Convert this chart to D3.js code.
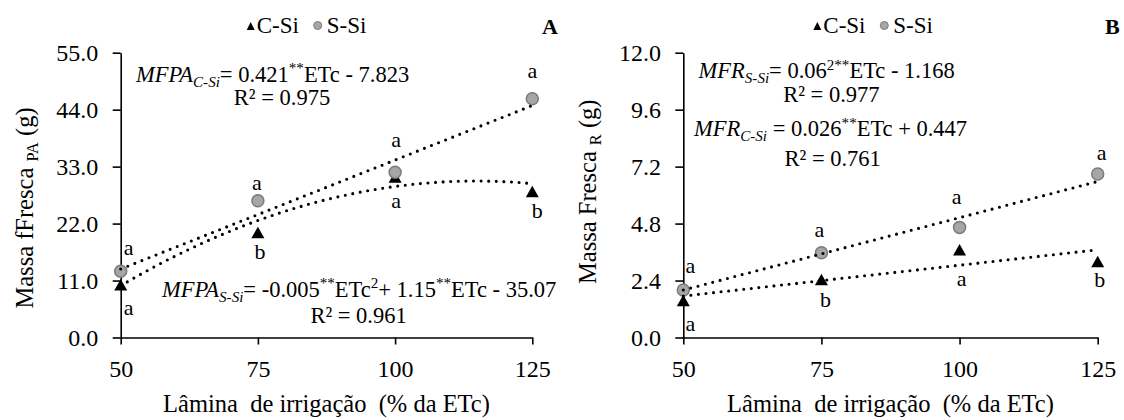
<!DOCTYPE html>
<html><head><meta charset="utf-8">
<script src="https://cdn.jsdelivr.net/npm/d3@7"></script>
<style>
html,body{margin:0;padding:0;background:#fff;}
svg{display:block;}
</style></head><body>
<svg id="chart" width="1124" height="420"></svg>
<script>
// ---------- data ----------
const etc = [50, 75, 100, 125];
const xTicks = [50, 75, 100, 125];
const aCSi = [10.2, 20.3, 31.0, 28.2];
const aSSi = [12.8, 26.4, 31.9, 46.1];
const bCSi = [1.56, 2.44, 3.7, 3.2];
const bSSi = [2.0, 3.57, 4.64, 6.89];
const aYTicks = [0, 11, 22, 33, 44, 55];
const bYTicks = [0, 2.4, 4.8, 7.2, 9.6, 12];
const aLettersC = ["a", "b", "a", "b"];
const aLettersS = ["a", "a", "a", "a"];
const bLettersC = ["a", "b", "a", "b"];
const bLettersS = ["a", "a", "a", "a"];
// trend-line coefficients [x^2, x, const]
const aTrendS = [0, 0.421, -7.823];
const aTrendC = [-0.004822, 1.1067, -33.28];
const bTrendS = [0, 0.061, -1.05];
const bTrendC = [0, 0.026, 0.447];
const seriesNames = ["C-Si", "S-Si"];

// ---------- layout ----------
const FF = "Liberation Serif";
const svg = d3.select("#chart").style("font-family", FF);
const FONT_TICK = 24, FONT_TITLE = 24.5, FONT_ANN = 22.5, FONT_LET = 22, FONT_LEG = 23;
const yTop = 52.7, yBot = 337.5;

function txt(g) {
  return g.append("text").style("font-family", FF).attr("fill", "#000");
}

function richText(g, x, y, parts, size, anchor) {
  const t = txt(g).attr("x", x).attr("y", y)
    .attr("font-size", size).attr("text-anchor", anchor || "start")
    .style("white-space", "pre");
  let shift = 0;
  parts.forEach(p => {
    const target = p.sub ? 5 : (p.sup ? -8.5 : 0);
    const ts = t.append("tspan").text(p.t).attr("dy", target - shift);
    shift = target;
    if (p.sub || p.sup) ts.attr("font-size", size * 0.67);
    if (p.i) ts.attr("font-style", "italic");
  });
  return t;
}

function panel(cfg) {
  const g = svg.append("g");
  const x = d3.scaleLinear().domain([50, 125]).range([cfg.x0, cfg.x1]);
  const y = d3.scaleLinear().domain([cfg.yTicks[0], cfg.yTicks[cfg.yTicks.length - 1]]).range([yBot, yTop]);

  const xa = g.append("g").attr("transform", `translate(0,${yBot})`)
    .call(d3.axisBottom(x).tickValues(xTicks).tickSize(7).tickSizeOuter(0).tickPadding(15.5).tickFormat(d3.format("d")));
  const ya = g.append("g").attr("transform", `translate(${cfg.x0},0)`)
    .call(d3.axisLeft(y).tickValues(cfg.yTicks).tickSize(8).tickSizeOuter(0).tickPadding(14.4).tickFormat(d => d.toFixed(1)));
  [xa, ya].forEach(a => {
    a.attr("font-family", FF);
    a.selectAll("path,line").attr("stroke", "#000").attr("stroke-width", 1.6);
    a.selectAll("text").attr("font-size", FONT_TICK).attr("font-family", FF).style("font-family", FF).attr("fill", "#000");
  });

  // markers: triangles then circles
  const tri = (cx, cy, w, h) => `M${cx},${cy - h / 2}L${cx + w / 2},${cy + h / 2}L${cx - w / 2},${cy + h / 2}Z`;
  g.selectAll(".tri").data(etc.map((e, i) => [e, cfg.c[i]])).enter().append("path")
    .attr("d", d => tri(x(d[0]), y(d[1]), 13, 11.5)).attr("fill", "#000");
  g.selectAll(".cir").data(etc.map((e, i) => [e, cfg.s[i]])).enter().append("circle")
    .attr("cx", d => x(d[0])).attr("cy", d => y(d[1])).attr("r", 6)
    .attr("fill", "#a6a6a6").attr("stroke", "#7b7b7b").attr("stroke-width", 1.5);

  // trend lines
  const line = d3.line().x(d => x(d[0])).y(d => y(d[1]));
  [cfg.trendS, cfg.trendC].forEach(c => {
    const pts = d3.range(50, 125.01, 1).map(e => [e, c[0] * e * e + c[1] * e + c[2]]);
    g.append("path").datum(pts).attr("d", line).attr("fill", "none")
      .attr("stroke", "#000").attr("stroke-width", 3.1)
      .attr("stroke-dasharray", "0,7.6").attr("stroke-linecap", "round");
  });

  // letters
  etc.forEach((e, i) => {
    const os = cfg.offS[i], oc = cfg.offC[i];
    txt(g).attr("x", x(e) + os[0]).attr("y", y(cfg.s[i]) + os[1])
      .attr("text-anchor", "middle").attr("font-size", FONT_LET).text(cfg.lettersS[i]);
    txt(g).attr("x", x(e) + oc[0]).attr("y", y(cfg.c[i]) + oc[1])
      .attr("text-anchor", "middle").attr("font-size", FONT_LET).text(cfg.lettersC[i]);
  });

  // equations
  cfg.eqs.forEach(eq => {
    richText(g, eq.x, eq.y, eq.parts, FONT_ANN, "start");
    txt(g).attr("x", eq.rx).attr("y", eq.ry).attr("text-anchor", "middle")
      .attr("font-size", FONT_ANN).text(eq.r2);
  });

  // legend
  const lg = g.append("g").attr("transform", `translate(${cfg.x0 + cfg.legDx},0)`);
  lg.append("path").attr("d", tri(4, 26, 8, 8)).attr("fill", "#000");
  txt(lg).attr("x", 10).attr("y", 32.7).attr("font-size", FONT_LEG).text(seriesNames[0]);
  lg.append("circle").attr("cx", 71).attr("cy", 25.5).attr("r", 4).attr("fill", "#a6a6a6").attr("stroke", "#7b7b7b").attr("stroke-width", 1);
  txt(lg).attr("x", 80).attr("y", 32.7).attr("font-size", FONT_LEG).text(seriesNames[1]);

  // panel letter
  txt(g).attr("x", cfg.letterX).attr("y", 34).attr("font-size", 22)
    .attr("font-weight", "bold").text(cfg.letter);

  // axis titles
  txt(g).attr("x", (cfg.x0 + cfg.x1) / 2).attr("y", 412).attr("text-anchor", "middle")
    .attr("font-size", FONT_TITLE).style("white-space", "pre").text("Lâmina  de irrigação  (% da ETc)");
  const yt = g.append("g").attr("transform", `translate(${cfg.ytX},${cfg.ytY}) rotate(-90)`);
  richText(yt, 0, 0, cfg.yTitle, FONT_TITLE, "middle");
}

panel({
  x0: 120.7, x1: 532.3, yTicks: aYTicks, c: aCSi, s: aSSi,
  trendS: aTrendS, trendC: aTrendC, lettersC: aLettersC, lettersS: aLettersS,
  offS: [[8, -16], [-1, -11], [1, -25.6], [0, -20.5]],
  offC: [[8, 30], [2, 27], [1, 31], [5, 27]],
  eqs: [
    { x: 136, y: 81.7, parts: [{ t: "MFPA", i: 1 }, { t: "C-Si", i: 1, sub: 1 }, { t: "= 0.421" }, { t: "**", sup: 1 }, { t: "ETc - 7.823" }], rx: 282, ry: 105, r2: "R² = 0.975" },
    { x: 162, y: 296.7, parts: [{ t: "MFPA", i: 1 }, { t: "S-Si", i: 1, sub: 1 }, { t: "= -0.005" }, { t: "**", sup: 1 }, { t: "ETc" }, { t: "2", sup: 1 }, { t: "+ 1.15" }, { t: "**", sup: 1 }, { t: "ETc - 35.07" }], rx: 358.6, ry: 323.3, r2: "R² = 0.961" }
  ],
  legDx: 126, letter: "A", letterX: 542,
  ytX: 33, ytY: 208, yTitle: [{ t: "Massa fFresca " }, { t: "PA", sub: 1 }, { t: " (g)" }]
});

panel({
  x0: 683.3, x1: 1097.7, yTicks: bYTicks, c: bCSi, s: bSSi,
  trendS: bTrendS, trendC: bTrendC, lettersC: bLettersC, lettersS: bLettersS,
  offS: [[7, -16.7], [-2, -16], [-3, -23.4], [4, -14]],
  offC: [[7, 30.5], [4, 27], [2, 36], [2, 25]],
  eqs: [
    { x: 698.6, y: 78.3, parts: [{ t: "MFR", i: 1 }, { t: "S-Si", i: 1, sub: 1 }, { t: "= 0.06" }, { t: "2**", sup: 1 }, { t: "ETc - 1.168" }], rx: 831.4, ry: 101.7, r2: "R² = 0.977" },
    { x: 694, y: 136, parts: [{ t: "MFR", i: 1 }, { t: "C-Si", i: 1, sub: 1 }, { t: " = 0.026" }, { t: "**", sup: 1 }, { t: "ETc + 0.447" }], rx: 832.7, ry: 165.7, r2: "R² = 0.761" }
  ],
  legDx: 130, letter: "B", letterX: 1105,
  ytX: 596, ytY: 191.7, yTitle: [{ t: "Massa Fresca " }, { t: "R", sub: 1 }, { t: " (g)" }]
});
</script>
</body></html>
